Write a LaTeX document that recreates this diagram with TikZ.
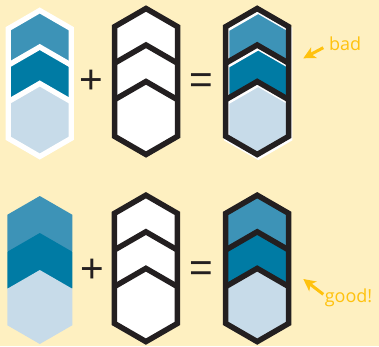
\documentclass[tikz,border=0pt]{standalone}
\usepackage{fontspec}
\usetikzlibrary{arrows.meta}
\newfontfamily\symfnt{Liberation Sans}
\newfontfamily\lblfnt{Open Sans}
\definecolor{bg}{HTML}{FEF0C1}
\definecolor{cA}{HTML}{3D93B7}
\definecolor{cB}{HTML}{007BA4}
\definecolor{cC}{HTML}{C7DBE9}
\definecolor{ink}{HTML}{231F20}
\definecolor{ylw}{HTML}{FFC20E}
% filled hexagon: colour, cx, apex y, half width, height
\newcommand\hexfill[5]{%
  \fill[#1] (#2,#3) -- ({#2+#4},{#3+0.57735*#4}) -- ({#2+#4},{#3+#5-0.57735*#4})
    -- (#2,{#3+#5}) -- ({#2-#4},{#3+#5-0.57735*#4}) -- ({#2-#4},{#3+0.57735*#4}) -- cycle;}
% coloured stack: cx, apex y, half width, pitch
\newcommand\colstack[4]{%
  \hexfill{cA}{#1}{#2}{#3}{2*#4}%
  \hexfill{cB}{#1}{#2+#4}{#3}{2*#4}%
  \hexfill{cC}{#1}{#2+2*#4}{#3}{2*#4}}
% stack outline: style, fill, cx, apex y, half width, pitch
\newcommand\stackline[6]{%
  \path[#1,fill=#2] (#3,#4) -- ({#3+#5},{#4+0.57735*#5}) -- ({#3+#5},{#4+4*#6-0.57735*#5})
    -- (#3,{#4+4*#6}) -- ({#3-#5},{#4+4*#6-0.57735*#5}) -- ({#3-#5},{#4+0.57735*#5}) -- cycle;
  \draw[#1] ({#3-#5},{#4+#6+0.57735*#5}) -- (#3,{#4+#6}) -- ({#3+#5},{#4+#6+0.57735*#5});
  \draw[#1] ({#3-#5},{#4+2*#6+0.57735*#5}) -- (#3,{#4+2*#6}) -- ({#3+#5},{#4+2*#6+0.57735*#5});}
\begin{document}
\begin{tikzpicture}[x=1pt,y=-1pt,
  blackline/.style={draw=ink,line width=5.5pt,line join=miter},
  whiteline/.style={draw=white,line width=5.3pt,line join=miter},
  sym/.style={inner sep=0pt,text=ink,font=\symfnt\fontsize{40.5}{40.5}\selectfont},
  lbl/.style={inner sep=0pt,text=ylw,font=\lblfnt\fontsize{18}{18}\selectfont,anchor=base west},
  arr/.style={draw=ylw,line width=3pt,-{Stealth[length=12pt,width=12pt,inset=3pt]}}]
\fill[bg] (0,0) rectangle (379,346);
\useasboundingbox (0,0) rectangle (379,346);
\begin{scope}
\clip (0,0) rectangle (379,346);
% ---- top row ----
\colstack{39.75}{10.5}{31.5}{36.5}
\stackline{whiteline}{none}{39.75}{10.5}{31.5}{36.5}
\stackline{blackline}{white}{146}{8.5}{31.5}{36.5}
\colstack{258.2}{11}{31.5}{36.5}
\stackline{whiteline}{none}{258.2}{11}{31.5}{36.5}
\stackline{blackline}{none}{257.2}{8.5}{31.5}{36.5}
% ---- bottom row ----
\colstack{39.8}{196}{32.5}{37}
\stackline{blackline}{white}{145.9}{195.2}{31.5}{36.6}
\colstack{257.2}{196}{32.5}{37}
\stackline{blackline}{none}{257.2}{195.2}{31.5}{36.6}
\end{scope}
% ---- operators ----
\node[sym] (plusA) at (91.7,81.5) {+};
\node[sym] (eqA) at (201.5,83.5) {=};
\node[sym] (plusB) at (92,271) {+};
\node[sym] (eqB) at (201.5,271.7) {=};
% ---- labels ----
\node[lbl] (bad) at (328.8,50) {bad};
\node[lbl] (good) at (324.6,302.3) {good!};
\coordinate (badtail) at (323.3,47.7);
\coordinate (badtip) at (303.3,58.3);
\coordinate (goodtail) at (323.3,294.3);
\coordinate (goodtip) at (303.3,279);
\draw[arr] (badtail) -- (badtip);
\draw[arr] (goodtail) -- (goodtip);
\end{tikzpicture}
\end{document}
